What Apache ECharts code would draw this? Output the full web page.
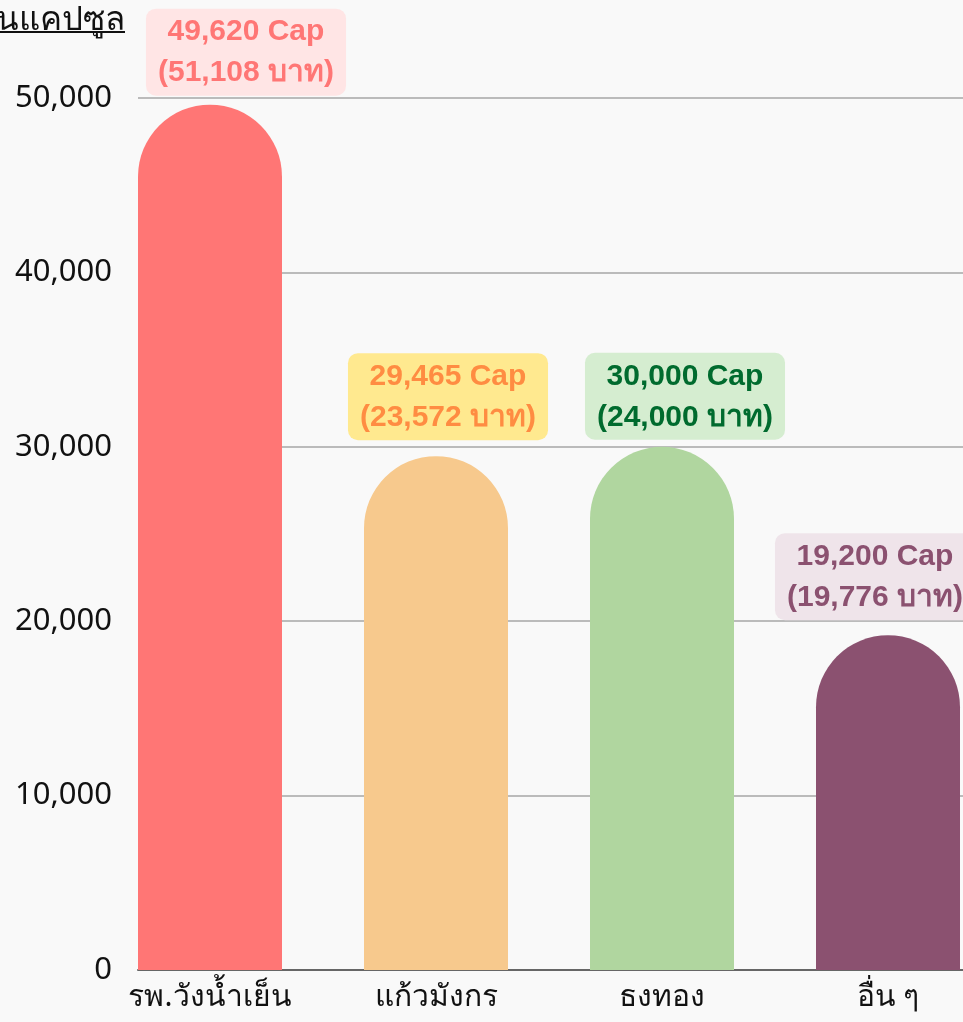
<!DOCTYPE html>
<html>
<head>
<meta charset="utf-8">
<script src="https://cdn.jsdelivr.net/npm/echarts@6/dist/echarts.min.js"></script>
<style>
  html, body { margin: 0; padding: 0; background: #f9f9f9; overflow: hidden; }
  /* chart is a bit wider than the window, the right edge gets cropped like the original */
  #chart { width: 1001px; height: 1022px; }
</style>
</head>
<body>
<div id="chart"></div>
<script>
// data
const categories = ['รพ.วังน้ำเย็น', 'แก้วมังกร', 'ธงทอง', 'อื่น ๆ']
const capsules = [49620, 29465, 30000, 19200]
const baht = [51108, 23572, 24000, 19776]
const barColors = ['#ff7675', '#f7c98d', '#b0d69f', '#8b5170']
const labelBg = ['#ffe5e5', '#ffe98f', '#d5edd0', '#efe4ea']
const labelColors = ['#ff7675', '#ff8c42', '#006b2e', '#8b5170']
// the labels in the original are nudged by hand
const labelOffsets = [[36, -2], [12, -9], [23, 0], [-13, -8]]

const fmt = n => String(n).replace(/\B(?=(\d{3})+(?!\d))/g, ',')

const chart = echarts.init(document.getElementById('chart'))

chart.setOption({
  backgroundColor: '#f9f9f9',
  animation: false,
  grid: [
    // gridlines + y axis
    { left: 138, right: 38, top: 98, bottom: 52 },
    // bars (shifted half a gap left so the first bar starts on the axis)
    { left: 97, right: 0, top: 98, bottom: 52 }
  ],
  xAxis: [
    {
      gridIndex: 0, type: 'value', min: 0, max: 1,
      axisLine: { show: true, onZero: false, lineStyle: { color: '#666', width: 2 } },
      axisTick: { show: false }, axisLabel: { show: false }, splitLine: { show: false }
    },
    {
      gridIndex: 1, type: 'category', data: categories,
      axisLine: { show: false }, axisTick: { show: false },
      axisLabel: { color: '#111', fontSize: 30, fontFamily: 'Noto Sans', margin: 12 }
    }
  ],
  yAxis: [
    {
      gridIndex: 0, type: 'value', min: 0, max: 50000, interval: 10000,
      axisLine: { show: false }, axisTick: { show: false },
      axisLabel: { color: '#111', fontSize: 31, fontFamily: 'Noto Sans', margin: 26, formatter: v => fmt(v) },
      splitLine: { lineStyle: { color: '#bbb', width: 2 } }
    },
    {
      gridIndex: 1, type: 'value', min: 0, max: 50000, show: false
    }
  ],
  graphic: [
    {
      type: 'text',
      style: {
        x: 125, y: 37, text: 'จำนวนแคปซูล', fontSize: 33, fontFamily: 'Noto Sans',
        fill: '#111', align: 'right', verticalAlign: 'bottom'
      }
    },
    {
      type: 'line', shape: { x1: 0, y1: 32, x2: 125, y2: 32 },
      style: { stroke: '#111', lineWidth: 2 }
    }
  ],
  series: [{
    type: 'bar',
    xAxisIndex: 1,
    yAxisIndex: 1,
    barWidth: 144,
    data: capsules.map((v, i) => ({
      value: v,
      itemStyle: { color: barColors[i], borderRadius: [72, 72, 0, 0] },
      label: {
        color: labelColors[i],
        backgroundColor: labelBg[i],
        offset: labelOffsets[i],
        formatter: fmt(v) + ' Cap\n(' + fmt(baht[i]) + ' บาท)'
      }
    })),
    label: {
      show: true,
      position: 'top',
      distance: 7,
      fontSize: 30,
      fontWeight: 'bold',
      fontFamily: 'Liberation Sans',
      lineHeight: 41,
      padding: [3, 12, 2, 12],
      borderRadius: 10,
      align: 'center'
    }
  }]
})
</script>
</body>
</html>
